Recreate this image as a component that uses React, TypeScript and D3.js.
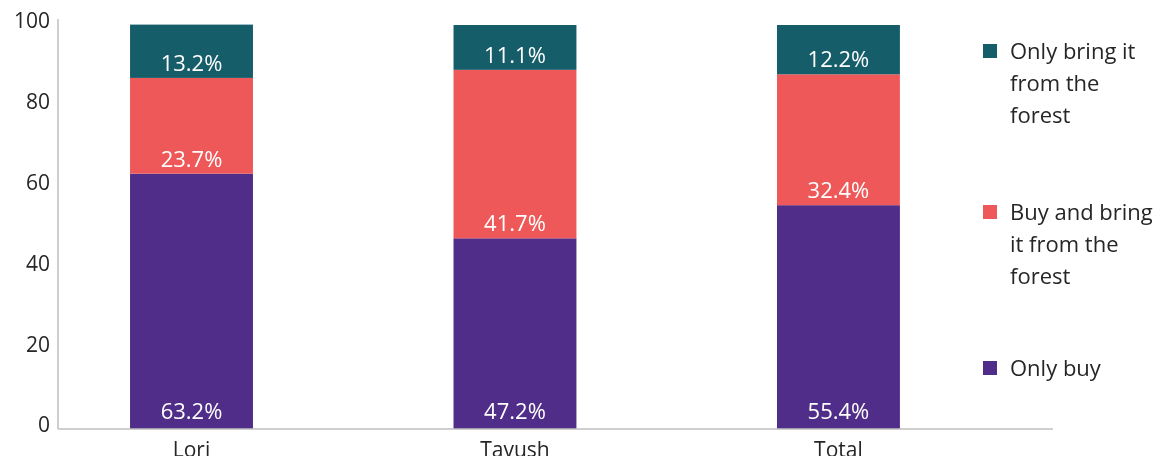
import React from "react";
import * as d3 from "d3";

const categories = ["Lori", "Tavush", "Total"];
const seriesNames = ["Only buy", "Buy and bring it from the forest", "Only bring it from the forest"];
const onlyBuy = [63.2, 47.2, 55.4];
const buyAndBring = [23.7, 41.7, 32.4];
const onlyBring = [13.2, 11.1, 12.2];
const yTicks = [0, 20, 40, 60, 80, 100];
const colors = ["#4F2D88", "#EE5858", "#165D6A"];
const legendLines = [
  ["Only bring it", "from the", "forest"],
  ["Buy and bring", "it from the", "forest"],
  ["Only buy"],
];
const legendColors = [colors[2], colors[1], colors[0]];

const W = 1160;
const H = 456;
const FONT = "'Segoe UI', 'Open Sans', sans-serif";

export default function App() {
  const series = [onlyBuy, buyAndBring, onlyBring];
  const x = d3
    .scaleBand<string>()
    .domain(categories)
    .range([58, 1053])
    .paddingInner(0.62)
    .paddingOuter(0.348)
    .align(0.32);
  const y = d3.scaleLinear().domain([0, 100]).range([429, 25]);

  const rows = categories.map((c, i) => {
    const r: any = { cat: c };
    series.forEach((s, k) => (r["s" + k] = s[i]));
    return r;
  });
  const stack = d3.stack<any>().keys(["s0", "s1", "s2"]);
  const stacked = stack(rows);

  return (
    <div style={{ position: "fixed", left: 0, top: 0 }}>
      <svg width={W} height={H} style={{ display: "block" }}>
        {stacked.map((layer, k) =>
          layer.map((d, i) => (
            <rect
              key={k + "-" + i}
              x={x(categories[i])}
              y={y(d[1])}
              width={x.bandwidth()}
              height={y(d[0]) - y(d[1])}
              fill={colors[k]}
            />
          ))
        )}
        {stacked.map((layer, k) =>
          layer.map((d, i) => (
            <text
              key={"l" + k + "-" + i}
              x={(x(categories[i]) as number) + x.bandwidth() / 2}
              y={y(d[0]) - (k === 0 ? 10 : 7)}
              textAnchor="middle"
              fill="#ffffff"
              fontFamily={FONT}
              fontSize={22}
            >
              {series[k][i].toFixed(1)}%
            </text>
          ))
        )}
        {/* axes */}
        <line x1={58} x2={58} y1={19} y2={429} stroke="#BFBFBF" strokeWidth={1.5} />
        <line x1={58} x2={1053} y1={429} y2={429} stroke="#BFBFBF" strokeWidth={1.5} />
        {yTicks.map((t) => (
          <text
            key={"t" + t}
            x={50}
            y={y(t) - 4}
            dy="0.35em"
            textAnchor="end"
            fill="#262626"
            fontFamily={FONT}
            fontSize={21}
          >
            {t}
          </text>
        ))}
        {categories.map((c) => (
          <text
            key={"c" + c}
            x={(x(c) as number) + x.bandwidth() / 2}
            y={457}
            textAnchor="middle"
            fill="#262626"
            fontFamily={FONT}
            fontSize={21}
          >
            {c}
          </text>
        ))}
        {/* legend */}
        {legendLines.map((lines, i) => {
          const top = [51, 212, 368][i];
          return (
            <g key={"lg" + i}>
              <rect x={983} y={top - 7} width={14} height={14} fill={legendColors[i]} />
              {lines.map((ln, j) => (
                <text
                  key={j}
                  x={1010}
                  y={top + j * 32}
                  dy="0.35em"
                  fill="#262626"
                  fontFamily={FONT}
                  fontSize={22}
                >
                  {ln}
                </text>
              ))}
            </g>
          );
        })}
      </svg>
    </div>
  );
}
